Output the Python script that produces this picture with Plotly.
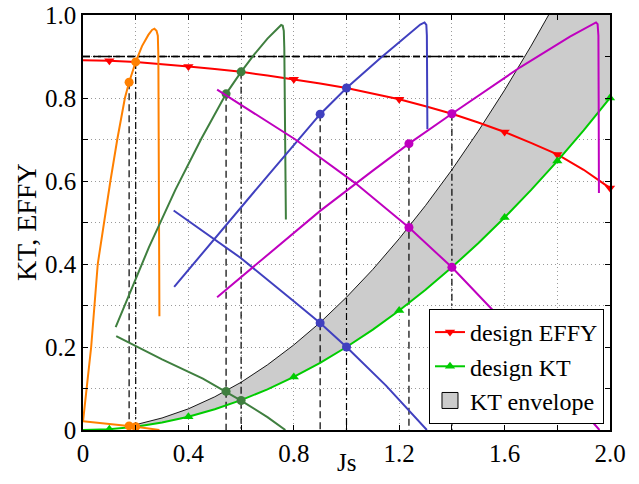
import plotly.graph_objects as go

# ---------------- data ----------------
js_design = [0.0, 0.1, 0.2, 0.3, 0.4, 0.5, 0.6, 0.7, 0.8, 0.9, 1.0,
             1.1, 1.2, 1.3, 1.4, 1.5, 1.6, 1.7, 1.8, 1.9, 2.0]
design_effy = [0.891, 0.890, 0.887, 0.882, 0.876, 0.870, 0.863, 0.854, 0.845, 0.835, 0.824,
               0.811, 0.797, 0.780, 0.762, 0.741, 0.718, 0.692, 0.664, 0.627, 0.583]
design_kt = [0.0, 0.002, 0.008, 0.018, 0.032, 0.050, 0.072, 0.098, 0.128, 0.162, 0.200,
             0.242, 0.288, 0.338, 0.392, 0.450, 0.512, 0.578, 0.648, 0.722, 0.800]
marker_js = [0.1, 0.4, 0.8, 1.2, 1.6, 1.8, 2.0]

env_js = js_design[2:]
env_upper = [0.0128, 0.029, 0.051, 0.080, 0.115, 0.157, 0.205, 0.259, 0.320, 0.387,
             0.461, 0.541, 0.627, 0.720, 0.819, 0.925, 1.037, 1.155, 1.280]
env_lower = design_kt[2:]

orange_effy_js = [0.0, 0.031, 0.056, 0.079, 0.104, 0.13, 0.159, 0.175, 0.2, 0.224, 0.248,
                  0.262, 0.271, 0.279, 0.284, 0.286, 0.288, 0.29]
orange_effy = [0.02, 0.2, 0.4, 0.5, 0.6, 0.7, 0.8, 0.838, 0.887, 0.925, 0.952,
               0.964, 0.967, 0.962, 0.95, 0.9, 0.6, 0.274]
orange_kt_js = [0.0, 0.175, 0.2, 0.29]
orange_kt = [0.021, 0.0098, 0.008, 0.0]

green_effy_js = [0.124, 0.25, 0.35, 0.45, 0.543, 0.6, 0.65, 0.7, 0.73, 0.745, 0.752,
                 0.758, 0.762, 0.764, 0.766, 0.768, 0.77]
green_effy = [0.248, 0.44, 0.578, 0.703, 0.81, 0.863, 0.905, 0.943, 0.962, 0.973, 0.976,
              0.974, 0.962, 0.92, 0.8, 0.65, 0.507]
green_kt_js = [0.126, 0.3, 0.455, 0.543, 0.6, 0.7, 0.768]
green_kt = [0.226, 0.17, 0.124, 0.093, 0.071, 0.031, 0.0]

blue_effy_js = [0.346, 0.5, 0.7, 0.9, 1.0, 1.128, 1.2, 1.254, 1.28, 1.296, 1.303,
                1.305, 1.306, 1.307]
blue_effy = [0.345, 0.462, 0.612, 0.761, 0.824, 0.896, 0.935, 0.963, 0.977, 0.982, 0.976,
             0.95, 0.85, 0.725]
blue_kt_js = [0.344, 0.6, 0.8, 0.9, 1.0, 1.15, 1.305]
blue_kt = [0.529, 0.414, 0.31, 0.258, 0.2, 0.107, 0.0]

magenta_effy_js = [0.509, 0.7, 0.9, 1.1, 1.237, 1.4, 1.659, 1.848, 1.92, 1.947, 1.953,
                   1.956, 1.957, 1.958]
magenta_effy = [0.32, 0.422, 0.528, 0.625, 0.69, 0.762, 0.874, 0.948, 0.974, 0.982, 0.978,
                0.95, 0.8, 0.571]
magenta_kt_js = [0.509, 0.806, 1.033, 1.237, 1.4, 1.633, 1.96]
magenta_kt = [0.82, 0.70, 0.595, 0.488, 0.392, 0.237, 0.0]

# operating points: [envelope point, design point]
orange_dot_js = [0.175, 0.2];  orange_dot_effy = [0.838, 0.887];  orange_dot_kt = [0.0098, 0.008]
green_dot_js = [0.543, 0.6];   green_dot_effy = [0.81, 0.863];    green_dot_kt = [0.093, 0.071]
blue_dot_js = [0.9, 1.0];      blue_dot_effy = [0.761, 0.824];    blue_dot_kt = [0.258, 0.2]
magenta_dot_js = [1.237, 1.4]; magenta_dot_effy = [0.69, 0.762];  magenta_dot_kt = [0.488, 0.392]

target_effy = 0.9
target_js_range = [0.0, 1.67]

x_tickvals = [0.0, 0.2, 0.4, 0.6, 0.8, 1.0, 1.2, 1.4, 1.6, 1.8, 2.0]
x_ticktext = ["0", "", "0.4", "", "0.8", "", "1.2", "", "1.6", "", "2.0"]
y_tickvals = [0.0, 0.1, 0.2, 0.3, 0.4, 0.5, 0.6, 0.7, 0.8, 0.9, 1.0]
y_ticktext = ["0", "", "0.2", "", "0.4", "", "0.6", "", "0.8", "", "1.0"]

# ---------------- styles ----------------
FONT = "'Liberation Serif', 'Times New Roman', Times, serif"
C_ORANGE = "#ff8000"
C_GREEN = "#3f7f3f"
C_BLUE = "#4040bf"
C_MAGENTA = "#bf00bf"
C_RED = "#ff0000"
C_DGREEN = "#00cc00"
DASH = "7px,4px"
DASHDOT = "7px,3px,2px,3px"

fig = go.Figure()

# KT envelope (fill between design KT and upper envelope)
fig.add_trace(go.Scatter(x=env_js, y=env_lower, mode="lines", line=dict(width=0, color=C_DGREEN),
                         showlegend=False, hoverinfo="skip"))
fig.add_trace(go.Scatter(x=env_js, y=env_upper, mode="lines", fill="tonexty",
                         fillcolor="#cccccc", line=dict(color="black", width=0.9),
                         showlegend=False))

# target efficiency horizontal lines
for d in (DASH, DASHDOT):
    fig.add_trace(go.Scatter(x=target_js_range, y=[target_effy, target_effy], mode="lines",
                             line=dict(color="black", width=1.3, dash=d), showlegend=False))

# vertical guide lines
for djs, deff in [(orange_dot_js, orange_dot_effy), (green_dot_js, green_dot_effy),
                  (blue_dot_js, blue_dot_effy), (magenta_dot_js, magenta_dot_effy)]:
    for k, d in enumerate((DASH, DASHDOT)):
        fig.add_trace(go.Scatter(x=[djs[k], djs[k]], y=[deff[k], 0.0], mode="lines",
                                 line=dict(color="black", width=1.2, dash=d), showlegend=False))

# design curves
mk_idx = [i for i, j in enumerate(js_design) if any(abs(j - m) < 1e-9 for m in marker_js)]
fig.add_trace(go.Scatter(x=js_design, y=design_effy, mode="lines", line=dict(color=C_RED, width=2),
                         showlegend=False, cliponaxis=False))
fig.add_trace(go.Scatter(x=[js_design[i] for i in mk_idx], y=[design_effy[i] for i in mk_idx],
                         mode="markers", marker=dict(symbol="triangle-down", size=9, color=C_RED),
                         showlegend=False, cliponaxis=False))
fig.add_trace(go.Scatter(x=js_design, y=design_kt, mode="lines", line=dict(color=C_DGREEN, width=2),
                         showlegend=False, cliponaxis=False))
fig.add_trace(go.Scatter(x=[js_design[i] for i in mk_idx], y=[design_kt[i] for i in mk_idx],
                         mode="markers", marker=dict(symbol="triangle-up", size=9, color=C_DGREEN),
                         showlegend=False, cliponaxis=False))

# propeller curves
props = [
    (C_ORANGE, orange_effy_js, orange_effy, orange_kt_js, orange_kt, orange_dot_js, orange_dot_effy, orange_dot_kt),
    (C_GREEN, green_effy_js, green_effy, green_kt_js, green_kt, green_dot_js, green_dot_effy, green_dot_kt),
    (C_BLUE, blue_effy_js, blue_effy, blue_kt_js, blue_kt, blue_dot_js, blue_dot_effy, blue_dot_kt),
    (C_MAGENTA, magenta_effy_js, magenta_effy, magenta_kt_js, magenta_kt, magenta_dot_js, magenta_dot_effy, magenta_dot_kt),
]
for col, ej, ev, kj, kv, dj, de, dk in props:
    fig.add_trace(go.Scatter(x=ej, y=ev, mode="lines", line=dict(color=col, width=2), showlegend=False))
    fig.add_trace(go.Scatter(x=kj, y=kv, mode="lines", line=dict(color=col, width=2), showlegend=False))
    fig.add_trace(go.Scatter(x=dj + dj, y=de + dk, mode="markers",
                             marker=dict(symbol="circle", size=9, color=col), showlegend=False,
                             cliponaxis=False))

# legend entries
fig.add_trace(go.Scatter(x=[None], y=[None], mode="lines+markers", name="design EFFY",
                         line=dict(color=C_RED, width=2),
                         marker=dict(symbol="triangle-down", size=9, color=C_RED)))
fig.add_trace(go.Scatter(x=[None], y=[None], mode="lines+markers", name="design KT",
                         line=dict(color=C_DGREEN, width=2),
                         marker=dict(symbol="triangle-up", size=9, color=C_DGREEN)))
fig.add_trace(go.Scatter(x=[None], y=[None], mode="markers", name="KT envelope",
                         marker=dict(symbol="square", size=16, color="#cccccc",
                                     line=dict(color="black", width=1))))

axis_common = dict(
    ticks="inside", ticklen=5, tickcolor="black", tickwidth=1,
    showline=True, linecolor="black", linewidth=1.5, mirror="ticks",
    showgrid=True, gridcolor="#9a9a9a", griddash="1px,3px", gridwidth=1,
    zeroline=False, automargin=False, ticklabeloverflow="allow",
    tickfont=dict(family=FONT, size=25, color="black"),
)
fig.update_layout(
    template="none",
    width=639, height=484,
    margin=dict(l=82.5, r=29, t=15, b=54, autoexpand=False),
    paper_bgcolor="white", plot_bgcolor="white",
    font=dict(family=FONT, size=25, color="black"),
    xaxis=dict(range=[0, 2.0], tickmode="array", tickvals=x_tickvals, ticktext=x_ticktext,
               **axis_common),
    yaxis=dict(range=[0, 1.0], tickmode="array", tickvals=y_tickvals, ticktext=y_ticktext,
               **axis_common),
    legend=dict(x=0.9886, y=0.0145, xanchor="right", yanchor="bottom", traceorder="normal",
                bgcolor="white", bordercolor="black", borderwidth=1,
                font=dict(family=FONT, size=24), tracegroupgap=0, itemwidth=30),
    showlegend=True,
    annotations=[
        dict(text="Js", xref="x", yref="paper", x=1.0, y=-0.079, xanchor="center",
             yanchor="middle", showarrow=False, font=dict(family=FONT, size=25)),
        dict(text="KT, EFFY", xref="paper", yref="paper", x=-0.107, y=0.5, xanchor="center",
             yanchor="middle", textangle=-90, showarrow=False, font=dict(family=FONT, size=28)),
    ],
)

# remove the browser's default 8px body margin so the 639x484 figure fills the window
fig.write_html("out.html", config={"displayModeBar": False},
               post_script="document.body.style.margin='0px';")
